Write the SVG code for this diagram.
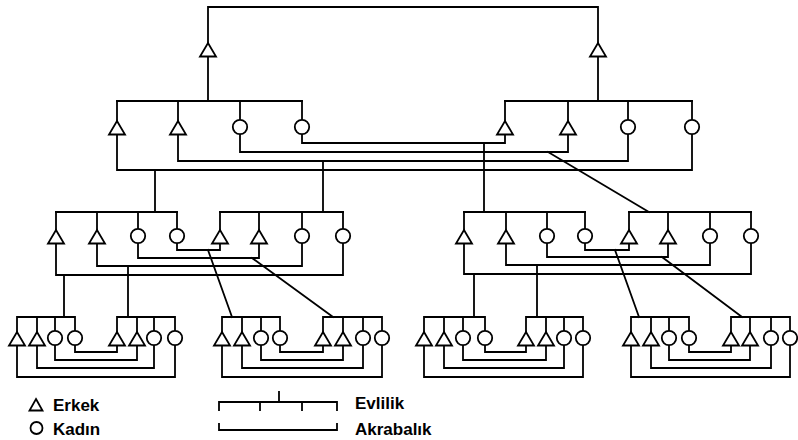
<svg xmlns="http://www.w3.org/2000/svg" width="798" height="440" viewBox="0 0 798 440">
<style>
.ln{fill:none;stroke:#000;stroke-width:1.8;stroke-linecap:square}
.sym{fill:#fff;stroke:#000;stroke-width:1.8;stroke-linejoin:miter}
.lbl{font-family:"Liberation Sans",Arial,sans-serif;font-weight:bold;font-size:17px;fill:#000}
</style>
<defs>
<path id="tri" class="sym" d="M0,-7 L8,6.5 L-8,6.5 Z"/>
<circle id="circ" class="sym" r="7.2"/>
</defs>
<rect width="798" height="440" fill="#fff"/>
<g id="connectors" class="ln">
<path d="M208,101 V7 H598 V101"/>
<path d="M117,101 H302 M505,101 H692"/>
<path d="M302,101 V143 H505 V101 M240,101 V152 H568 V101 M178,101 V161 H628 V101 M117,101 V170 H692 V101"/>
<path d="M155,170 V212 M323,161 V212 M484,143 V212 M548,152 L649,212"/>
<path d="M56,212 H177 M220,212 H343 M464,212 H585 M629,212 H751"/>
<path d="M177,212 V250 H220 V212 M138,212 V258 H259 V212 M97,212 V266 H302 V212 M56,212 V275 H343 V212"/>
<path d="M585,212 V250 H629 V212 M547,212 V257 H668 V212 M506,212 V265 H710 V212 M464,212 V274 H751 V212"/>
<path d="M64,275 V317 M128,266 V317 M208,250 L232,317 M252,258 L333,317"/>
<path d="M474,274 V317 M537,265 V317 M615,250 L639,317 M662,257 L742,317"/>
<path d="M17,317 H75 M117,317 H175 M75,317 V352 H117 V317 M55,317 V360 H137 V317 M37,317 V368 H154 V317 M17,317 V377 H175 V317"/>
<path d="M222,317 H280 M323,317 H382 M280,317 V352 H323 V317 M261,317 V360 H343 V317 M242,317 V368 H363 V317 M222,317 V377 H382 V317"/>
<path d="M424,317 H485 M526,317 H583 M485,317 V352 H526 V317 M463,317 V360 H546 V317 M444,317 V368 H564 V317 M424,317 V377 H583 V317"/>
<path d="M631,317 H689 M731,317 H790 M689,317 V352 H731 V317 M669,317 V360 H750 V317 M651,317 V368 H771 V317 M631,317 V377 H790 V317"/>
</g>
<g id="top-m1"><use href="#tri" x="208" y="50"/></g>
<g id="top-m2"><use href="#tri" x="598" y="50"/></g>
<g id="g1a-m1"><use href="#tri" x="117" y="128"/></g>
<g id="g1a-m2"><use href="#tri" x="178" y="128"/></g>
<g id="g1a-f1"><use href="#circ" x="240" y="127"/></g>
<g id="g1a-f2"><use href="#circ" x="302" y="127"/></g>
<g id="g1b-m1"><use href="#tri" x="505" y="128"/></g>
<g id="g1b-m2"><use href="#tri" x="568" y="128"/></g>
<g id="g1b-f1"><use href="#circ" x="628" y="127"/></g>
<g id="g1b-f2"><use href="#circ" x="692" y="127"/></g>
<g id="g2a-m1"><use href="#tri" x="56" y="237"/></g>
<g id="g2a-m2"><use href="#tri" x="97" y="237"/></g>
<g id="g2a-f1"><use href="#circ" x="138" y="236"/></g>
<g id="g2a-f2"><use href="#circ" x="177" y="236"/></g>
<g id="g2b-m1"><use href="#tri" x="220" y="237"/></g>
<g id="g2b-m2"><use href="#tri" x="259" y="237"/></g>
<g id="g2b-f1"><use href="#circ" x="302" y="236"/></g>
<g id="g2b-f2"><use href="#circ" x="343" y="236"/></g>
<g id="g2c-m1"><use href="#tri" x="464" y="237"/></g>
<g id="g2c-m2"><use href="#tri" x="506" y="237"/></g>
<g id="g2c-f1"><use href="#circ" x="547" y="236"/></g>
<g id="g2c-f2"><use href="#circ" x="585" y="236"/></g>
<g id="g2d-m1"><use href="#tri" x="629" y="237"/></g>
<g id="g2d-m2"><use href="#tri" x="668" y="237"/></g>
<g id="g2d-f1"><use href="#circ" x="710" y="236"/></g>
<g id="g2d-f2"><use href="#circ" x="751" y="236"/></g>
<g id="g3a-m1"><use href="#tri" x="17" y="339"/></g>
<g id="g3a-m2"><use href="#tri" x="37" y="339"/></g>
<g id="g3a-f1"><use href="#circ" x="55" y="338"/></g>
<g id="g3a-f2"><use href="#circ" x="75" y="338"/></g>
<g id="g3b-m1"><use href="#tri" x="117" y="339"/></g>
<g id="g3b-m2"><use href="#tri" x="137" y="339"/></g>
<g id="g3b-f1"><use href="#circ" x="154" y="338"/></g>
<g id="g3b-f2"><use href="#circ" x="175" y="338"/></g>
<g id="g3c-m1"><use href="#tri" x="222" y="339"/></g>
<g id="g3c-m2"><use href="#tri" x="242" y="339"/></g>
<g id="g3c-f1"><use href="#circ" x="261" y="338"/></g>
<g id="g3c-f2"><use href="#circ" x="280" y="338"/></g>
<g id="g3d-m1"><use href="#tri" x="323" y="339"/></g>
<g id="g3d-m2"><use href="#tri" x="343" y="339"/></g>
<g id="g3d-f1"><use href="#circ" x="363" y="338"/></g>
<g id="g3d-f2"><use href="#circ" x="382" y="338"/></g>
<g id="g3e-m1"><use href="#tri" x="424" y="339"/></g>
<g id="g3e-m2"><use href="#tri" x="444" y="339"/></g>
<g id="g3e-f1"><use href="#circ" x="463" y="338"/></g>
<g id="g3e-f2"><use href="#circ" x="485" y="338"/></g>
<g id="g3f-m1"><use href="#tri" x="526" y="339"/></g>
<g id="g3f-m2"><use href="#tri" x="546" y="339"/></g>
<g id="g3f-f1"><use href="#circ" x="564" y="338"/></g>
<g id="g3f-f2"><use href="#circ" x="583" y="338"/></g>
<g id="g3g-m1"><use href="#tri" x="631" y="339"/></g>
<g id="g3g-m2"><use href="#tri" x="651" y="339"/></g>
<g id="g3g-f1"><use href="#circ" x="669" y="338"/></g>
<g id="g3g-f2"><use href="#circ" x="689" y="338"/></g>
<g id="g3h-m1"><use href="#tri" x="731" y="339"/></g>
<g id="g3h-m2"><use href="#tri" x="750" y="339"/></g>
<g id="g3h-f1"><use href="#circ" x="771" y="338"/></g>
<g id="g3h-f2"><use href="#circ" x="790" y="338"/></g>
<g id="legend">
<path class="sym" d="M36,399 L42.5,410.5 L29.5,410.5 Z" stroke-width="2.2"/>
<text class="lbl" x="53" y="411">Erkek</text>
<circle class="sym" cx="36.5" cy="428" r="6" stroke-width="2.2"/>
<text class="lbl" x="53" y="435">Kadın</text>
<path class="ln" d="M219,410 V402 H337 V410 M260,402 V410 M302,402 V410 M279,392 V402"/>
<text class="lbl" x="355" y="409">Evlilik</text>
<path class="ln" d="M219,424 V430 H337 V424"/>
<text class="lbl" x="355" y="435">Akrabalık</text>
</g>
</svg>
